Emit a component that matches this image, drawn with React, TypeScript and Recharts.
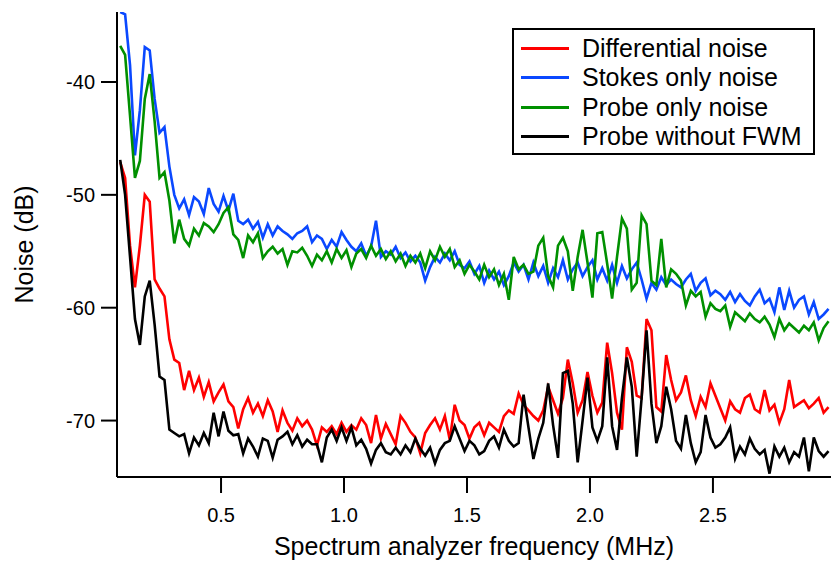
import React from "react";
import { LineChart, Line, XAxis, YAxis, Legend } from "recharts";

// Spectrum analyzer sample grid (MHz): first sample and spacing
const FREQ_START = 0.09;
const FREQ_STEP = 0.02;

const X_TICKS = [0.5, 1.0, 1.5, 2.0, 2.5];
const Y_TICKS = [-70, -60, -50, -40];

// Differential noise (dB)
const DIFF = [
  -47.1, -48.5, -54.5, -58.2, -54.5, -50.0, -50.6, -57.5, -58.3, -59.0,
  -62.8, -64.6, -64.9, -67.3, -65.6, -67.3, -66.2, -67.9, -66.6, -68.3,
  -67.5, -66.8, -68.3, -68.8, -70.7, -69.0, -68.0, -69.3, -68.5, -69.6,
  -68.2, -69.2, -71.0, -69.1, -70.2, -70.9, -69.8, -70.5, -70.0, -70.8,
  -72.2, -70.6, -71.0, -70.5, -71.2, -70.2, -71.0, -70.4, -70.8, -69.8,
  -70.4, -72.0, -69.5, -71.6, -70.3, -71.2, -72.1, -69.6, -70.2, -71.0,
  -71.5, -72.9, -71.1, -70.4, -69.8, -70.8, -69.6, -71.7, -68.6, -70.0,
  -70.4, -71.6, -70.6, -70.2, -71.3, -70.2, -70.6, -71.0, -69.6, -69.1,
  -69.4, -67.6, -68.6, -69.1, -69.6, -70.0, -69.1, -67.0, -68.2, -69.4,
  -68.0, -64.6, -66.7, -69.3, -68.2, -65.7, -67.8, -69.3, -68.4, -63.1,
  -65.8, -69.3, -70.8, -63.5, -64.8, -67.8, -68.0, -61.0, -62.0, -68.8,
  -69.2, -64.2, -66.4, -68.2, -67.5, -66.0, -68.2, -69.6, -67.9, -68.8,
  -66.7, -67.8, -68.9, -70.0, -68.3, -69.0, -69.3, -68.0, -67.7, -69.0,
  -69.3, -67.3, -69.1, -68.6, -70.2, -69.0, -66.4, -68.8, -68.5, -68.2,
  -68.9, -68.5, -68.0, -69.3, -68.8,
];

// Stokes only noise (dB)
const STOKES = [
  -33.8, -34.0, -38.5, -46.5, -42.5, -36.9, -37.2, -41.5, -44.5, -44.0,
  -47.5, -50.0, -51.2, -50.4, -51.8, -50.2, -50.6, -51.7, -49.4, -50.8,
  -51.5, -50.1, -51.4, -49.9, -52.3, -52.6, -52.2, -53.0, -52.4, -53.8,
  -52.6, -53.6, -52.8, -53.2, -53.5, -53.9, -53.4, -53.2, -52.8, -54.2,
  -53.6, -53.9, -54.8, -54.0, -54.6, -53.3, -54.0, -54.6, -55.0, -54.3,
  -55.4, -54.6, -52.3, -55.5, -55.0, -55.3, -54.6, -55.6, -55.1, -55.9,
  -55.4, -56.0, -57.6, -56.4, -55.5, -56.0, -55.2, -55.8, -55.0, -56.2,
  -56.5, -55.9, -57.0, -56.3, -57.8, -56.7, -57.5, -56.8, -58.0, -57.2,
  -56.0, -56.8, -56.2, -57.5, -56.0, -57.2, -56.3, -57.8, -56.5, -57.3,
  -55.8, -57.5, -56.6, -56.0, -57.2, -56.4, -55.8, -57.5, -56.5, -57.6,
  -56.2, -57.8, -56.3, -57.4, -56.6, -56.0, -57.5, -59.2, -57.8, -58.4,
  -57.3, -58.0, -57.5, -57.9, -58.2, -57.5, -57.0, -58.5, -57.8, -57.4,
  -58.9, -58.5, -58.8, -59.3, -58.6, -59.5, -58.8, -59.4, -59.8, -59.0,
  -58.4, -59.6, -59.2, -60.4, -58.2, -60.2, -58.5, -60.0, -59.3, -59.0,
  -60.6, -59.5, -61.0, -60.6, -60.1,
];

// Probe only noise (dB)
const PROBE = [
  -36.8, -37.6, -43.0, -48.5, -47.0, -41.5, -39.3, -43.5, -48.5, -48.0,
  -50.5, -54.3, -52.2, -53.9, -54.5, -53.0, -53.6, -52.5, -52.8, -53.3,
  -52.6, -51.6, -51.1, -53.5, -54.0, -55.6, -53.6, -54.2, -53.4, -55.6,
  -55.0, -54.6, -55.2, -54.8, -56.2, -55.0, -55.1, -54.7, -55.4, -56.3,
  -55.3, -55.8, -55.0, -56.0, -54.8, -55.6, -54.9, -56.4, -55.2, -54.8,
  -55.6, -54.5, -55.4, -54.8, -55.7, -55.0, -55.9, -55.2, -56.3, -55.4,
  -56.0, -55.2, -56.5, -55.0, -55.8, -54.6, -55.5, -54.8, -56.4, -55.8,
  -57.0, -56.2, -56.8, -57.5, -56.2, -57.3, -56.6, -58.0, -57.0, -59.3,
  -55.5, -56.6, -56.2, -57.0, -56.8, -54.5, -53.8, -57.2, -58.2, -54.5,
  -53.8, -55.0, -58.5, -55.5, -53.1, -56.0, -59.1, -53.4, -53.3, -56.1,
  -59.2, -55.5, -52.1, -53.0, -58.4, -57.8, -51.8, -52.6, -57.6, -58.0,
  -53.9, -58.2, -56.6, -57.0, -57.6, -59.8, -58.5, -59.0, -58.6, -60.8,
  -59.6, -60.1, -60.3, -59.8, -61.7, -60.4, -60.8, -61.2, -60.5, -61.0,
  -61.3, -60.8, -61.5, -62.6, -61.0, -62.0, -61.4, -61.8, -62.2, -61.6,
  -62.0, -61.3, -62.9, -61.8, -61.2,
];

// Probe without FWM (dB)
const NOFWM = [
  -46.9, -50.0, -55.5, -61.0, -63.3, -59.0, -57.6, -61.5, -66.1, -66.4,
  -70.8, -71.1, -71.4, -71.2, -72.9, -71.5, -72.2, -71.1, -72.0, -69.3,
  -71.4, -69.2, -70.9, -71.3, -71.2, -72.9, -71.6, -72.3, -73.2, -71.6,
  -71.8, -73.3, -71.7, -71.4, -71.0, -72.1, -71.3, -72.3, -71.7, -72.1,
  -72.1, -73.7, -71.5, -70.8, -71.8, -70.6, -71.8, -70.6, -72.2, -71.7,
  -72.5, -73.8, -72.6, -72.0, -72.8, -73.0, -72.4, -73.0, -72.2, -72.8,
  -71.6, -72.5, -73.1, -72.4, -73.8, -72.6, -72.0, -71.8, -70.5, -71.6,
  -72.7, -71.8, -72.2, -73.0, -72.7, -71.8, -71.4, -72.4, -70.8, -71.8,
  -72.3, -72.0, -67.7, -70.6, -73.4, -71.6, -70.2, -66.7, -70.4, -73.3,
  -65.8, -65.6, -68.5, -73.7, -70.0, -66.2, -70.6, -71.8, -70.5, -64.4,
  -70.5, -72.6, -68.0, -64.4, -67.0, -73.2, -68.0, -62.0, -68.5, -72.0,
  -70.5, -67.0, -69.0, -71.8, -72.5, -69.5, -72.0, -73.7, -72.8, -69.5,
  -71.5, -72.4, -72.1, -71.5, -70.6, -73.4, -72.3, -73.0, -71.6, -72.5,
  -73.0, -72.6, -74.7, -72.3, -73.2, -72.4, -73.7, -72.8, -73.2, -71.5,
  -74.5, -71.5, -72.7, -73.2, -72.7,
];

const SERIES = [
  { key: "diff", name: "Differential noise", color: "#ff0000", values: DIFF },
  { key: "stokes", name: "Stokes only noise", color: "#0a48ff", values: STOKES },
  { key: "probe", name: "Probe only noise", color: "#009000", values: PROBE },
  { key: "nofwm", name: "Probe without FWM", color: "#000000", values: NOFWM },
];

const N = Math.min(DIFF.length, STOKES.length, PROBE.length, NOFWM.length);
const data = Array.from({ length: N }, (_, i) => {
  const row: Record<string, number> = { f: +(FREQ_START + FREQ_STEP * i).toFixed(3) };
  SERIES.forEach((s) => {
    row[s.key] = s.values[i];
  });
  return row;
});

const FONT = "Arial, 'Liberation Sans', sans-serif";

const LegendBox = () => (
  <div
    style={{
      border: "2px solid #000",
      background: "#fff",
      width: 303,
      height: 127,
      boxSizing: "border-box",
      paddingTop: 4,
      fontFamily: FONT,
      fontSize: 25,
      color: "#000",
    }}
  >
    {SERIES.map((s) => (
      <div key={s.key} style={{ display: "flex", alignItems: "center", height: 29.3 }}>
        <div style={{ marginLeft: 7, width: 48, height: 3, background: s.color }} />
        <div style={{ marginLeft: 13, lineHeight: "29px", whiteSpace: "nowrap" }}>{s.name}</div>
      </div>
    ))}
  </div>
);

const YTitle = (props: any) => {
  const vb = props.viewBox || {};
  const cy = vb.y + vb.height / 2;
  const cx = 24;
  return (
    <text
      x={cx}
      y={cy}
      transform={`rotate(-90 ${cx} ${cy})`}
      textAnchor="middle"
      dominantBaseline="central"
      fontFamily={FONT}
      fontSize={25}
      fill="#000"
    >
      Noise (dB)
    </text>
  );
};

const XTitle = (props: any) => {
  const vb = props.viewBox || {};
  return (
    <text
      x={vb.x + vb.width / 2}
      y={555}
      textAnchor="middle"
      fontFamily={FONT}
      fontSize={25}
      fill="#000"
    >
      Spectrum analyzer frequency (MHz)
    </text>
  );
};

export default function App() {
  return (
    <div style={{ position: "absolute", left: 0, top: 0, width: 833, height: 561, background: "#fff" }}>
      <LineChart
        width={833}
        height={561}
        data={data}
        margin={{ top: 12, right: 2, bottom: 24, left: 57 }}
      >
        <XAxis
          dataKey="f"
          type="number"
          domain={[0.077, 2.98]}
          allowDataOverflow
          ticks={X_TICKS}
          tickFormatter={(v: number) => v.toFixed(1)}
          height={60}
          tickSize={16}
          tickMargin={15}
          axisLine={{ stroke: "#000", strokeWidth: 2 }}
          tickLine={{ stroke: "#000", strokeWidth: 2 }}
          tick={{ fill: "#000", fontSize: 20, fontFamily: FONT }}
          label={{ content: XTitle }}
        />
        <YAxis
          type="number"
          domain={[-75, -33.8]}
          allowDataOverflow
          ticks={Y_TICKS}
          width={60}
          tickSize={16}
          tickMargin={6}
          axisLine={{ stroke: "#000", strokeWidth: 2 }}
          tickLine={{ stroke: "#000", strokeWidth: 2 }}
          tick={{ fill: "#000", fontSize: 20, fontFamily: FONT }}
          label={{ content: YTitle }}
        />
        <Legend
          layout="horizontal"
          verticalAlign="middle"
          align="center"
          wrapperStyle={{ left: 512, top: 28, width: 303 }}
          content={() => <LegendBox />}
        />
        {SERIES.map((s) => (
          <Line
            key={s.key}
            dataKey={s.key}
            name={s.name}
            type="linear"
            stroke={s.color}
            strokeWidth={2.6}
            dot={false}
            activeDot={false}
            isAnimationActive={false}
          />
        ))}
      </LineChart>
    </div>
  );
}
